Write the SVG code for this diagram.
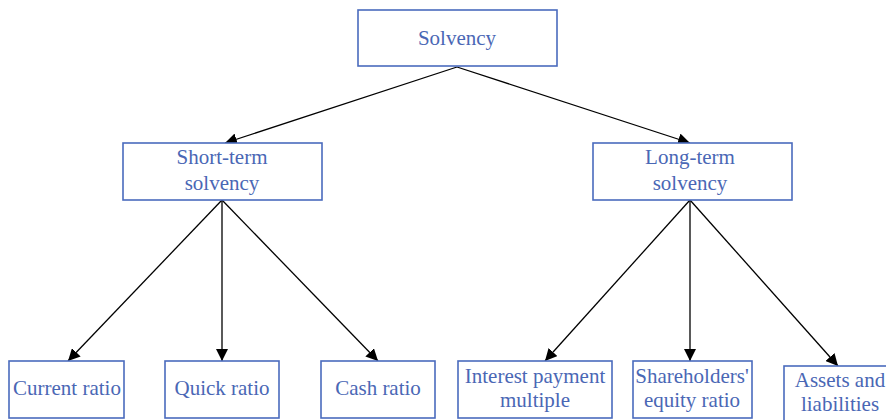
<svg xmlns="http://www.w3.org/2000/svg" width="886" height="420" viewBox="0 0 886 420">
<defs>
<style>
.box{fill:#fff;stroke:#4a6bbd;stroke-width:1.6}
.t{font-family:'Liberation Serif','Times New Roman',serif;font-size:21px;fill:#4a67b5;text-anchor:middle}
.c{stroke:#000;stroke-width:1.3;fill:none;marker-end:url(#ah)}
</style>
<marker id="ah" viewBox="0 0 10 10" refX="10" refY="5" markerWidth="12" markerHeight="12" markerUnits="userSpaceOnUse" orient="auto">
<path d="M0,0 L10,5 L0,10 z" fill="#000"/>
</marker>
</defs>
<rect width="886" height="420" fill="#fff"/>
<g id="connectors">
<line class="c" x1="457" y1="67" x2="225" y2="143"/>
<line class="c" x1="457" y1="67" x2="690" y2="143"/>
<line class="c" x1="222" y1="200" x2="68" y2="361"/>
<line class="c" x1="222" y1="200" x2="222" y2="361"/>
<line class="c" x1="222" y1="200" x2="378" y2="361"/>
<line class="c" x1="690" y1="200" x2="545" y2="361"/>
<line class="c" x1="690" y1="200" x2="690" y2="361"/>
<line class="c" x1="690" y1="200" x2="838" y2="366"/>
</g>
<g id="solvency"><rect class="box" x="358" y="10" width="199" height="56"/><text class="t" x="457" y="45">Solvency</text></g>
<g id="short-term"><rect class="box" x="123" y="143" width="199" height="57"/><text class="t" x="222" y="164">Short-term</text><text class="t" x="222" y="190">solvency</text></g>
<g id="long-term"><rect class="box" x="593" y="143" width="199" height="57"/><text class="t" x="690" y="164">Long-term</text><text class="t" x="690" y="190">solvency</text></g>
<g id="current"><rect class="box" x="9" y="361" width="115" height="57"/><text class="t" x="67" y="395">Current ratio</text></g>
<g id="quick"><rect class="box" x="165" y="361" width="114" height="57"/><text class="t" x="222" y="395">Quick ratio</text></g>
<g id="cash"><rect class="box" x="321" y="361" width="114" height="57"/><text class="t" x="378" y="395">Cash ratio</text></g>
<g id="interest"><rect class="box" x="458" y="361" width="154" height="57"/><text class="t" x="535" y="383">Interest payment</text><text class="t" x="535" y="407">multiple</text></g>
<g id="equity"><rect class="box" x="633" y="361" width="119" height="57"/><text class="t" x="692" y="383">Shareholders'</text><text class="t" x="692" y="407">equity ratio</text></g>
<g id="assets"><rect class="box" x="784" y="366" width="110" height="60"/><text class="t" x="840" y="387">Assets and</text><text class="t" x="840" y="411">liabilities</text></g>
</svg>
